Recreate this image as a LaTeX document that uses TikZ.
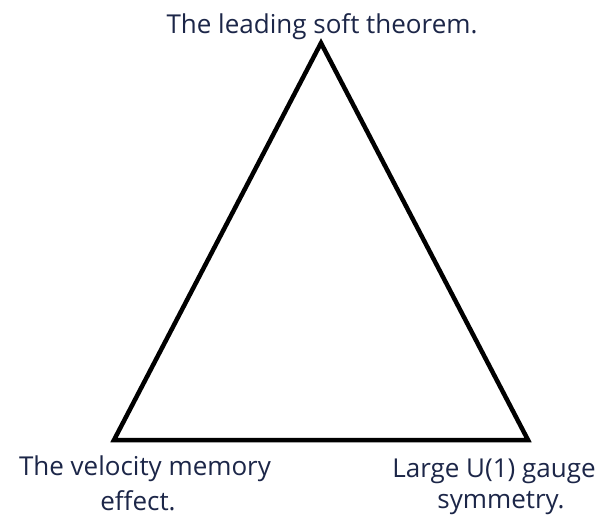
\documentclass[tikz,border=0pt]{standalone}
\usepackage{fontspec}
\setmainfont{Open Sans}
\definecolor{txt}{RGB}{28,38,72}
\begin{document}
\begin{tikzpicture}[x=1pt,y=-1pt,
  lbl/.style={text=txt,font=\fontsize{26}{35}\selectfont,align=center,inner sep=0pt,anchor=base},
  edge/.style={line width=4.5pt,line join=miter}]
\useasboundingbox[fill=white] (0,0) rectangle (604,522);
\coordinate (A) at (321,43);
\coordinate (B) at (114,440);
\coordinate (C) at (528,440);
\draw[edge] (A) -- (B) -- (C) -- cycle;
\node[lbl] (top) at (322,33) {The leading soft theorem.};
\node[lbl] (bl1) at (145,475) {The velocity memory};
\node[lbl] (bl2) at (138,510) {effect.};
\node[lbl] (br1) at (494,477) {Large U(1) gauge};
\node[lbl] (br2) at (501,508) {symmetry.};
\end{tikzpicture}
\end{document}
